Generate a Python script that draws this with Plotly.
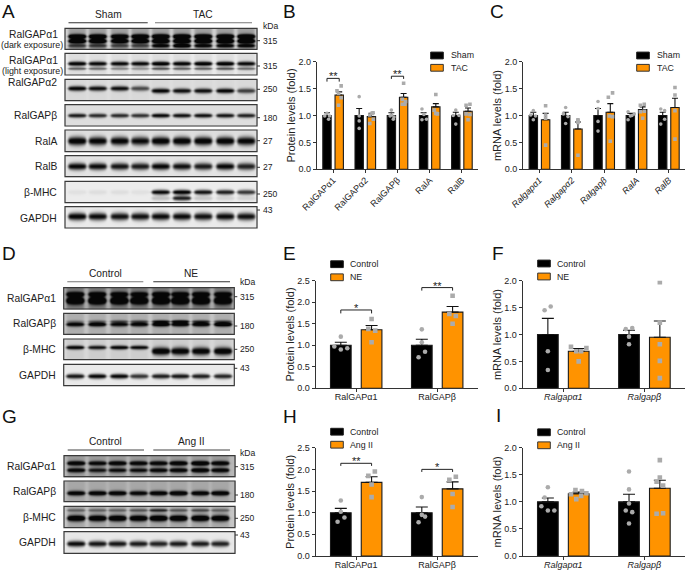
import numpy as np
import plotly.graph_objects as go

W, H = 685, 570
FONT = "Liberation Sans"
INK = "#222222"
AXC = "#333333"
ORANGE = "#FF9300"
DOT = "#ABABAB"

# ---------- bar chart data ----------
B_labels = ["RalGAPα1", "RalGAPα2", "RalGAPβ", "RalA", "RalB"]
B_sham = [1.0, 1.0, 1.0, 1.0, 1.0]
B_sham_err = [0.05, 0.13, 0.05, 0.05, 0.06]
B_tac = [1.38, 0.98, 1.34, 1.16, 1.08]
B_tac_err = [0.06, 0.06, 0.07, 0.06, 0.06]
B_sham_pts = [[1.04, 0.93, 0.99, 0.99], [1.35, 0.90, 0.76, 0.99], [1.10, 0.99, 0.93, 1.01, 0.97],
              [1.12, 0.92, 0.93, 1.02], [1.10, 0.84, 1.00, 1.00]]
B_sham_dx = [[0, .05, -.07, .08], [0, 0, 0, 0], [0, -.04, .06, .01, .08],
             [-.05, -.05, .09, .01], [0, 0, .1, -.08]]
B_tac_pts = [[1.46, 1.55, 1.33, 1.19, 1.41], [0.85, 1.04, 0.93, 1.01, 1.05], [1.60, 1.30, 1.26, 1.21, 1.21],
             [1.39, 1.10, 1.03, 1.04], [1.19, 1.21, 0.92, 1.02, 1.03]]
B_tac_dx = [[-.07, .06, .06, -.02, -.02], [-.05, .02, .06, -.05, .05], [0, -.04, .06, -.04, .04],
            [0, -.05, .05, 0], [-.06, .06, 0, .06, -.06]]

C_labels = ["Ralgapα1", "Ralgapα2", "Ralgapβ", "RalA", "RalB"]
C_sham = [1.0, 1.0, 1.0, 1.0, 1.0]
C_sham_err = [0.06, 0.06, 0.13, 0.04, 0.06]
C_tac = [0.92, 0.75, 1.06, 1.11, 1.15]
C_tac_err = [0.12, 0.13, 0.16, 0.05, 0.17]
C_sham_pts = [[1.09, 1.01, 0.99, 0.92], [1.15, 1.03, 0.98, 0.85], [1.26, 0.89, 0.71, 1.13],
              [1.07, 0.92, 1.03, 1.00, 0.99], [1.12, 1.09, 0.84, 0.93]]
C_sham_dx = [[0, -.08, .07, 0], [0, -.07, .07, 0], [0, 0, 0, 0], [-.07, -.07, .12, .05, 0], [-.06, .06, -.06, .06]]
C_tac_pts = [[1.18, 0.95, 0.45, 1.01], [0.92, 0.87, 0.26, 0.90], [1.42, 1.34, 0.99, 0.98, 0.52],
             [1.19, 1.21, 0.95, 1.08, 1.07], [1.52, 1.38, 1.09, 0.56]]
C_tac_dx = [[0, 0, 0, 0], [0, 0, 0, 0], [.07, -.06, -.03, .07, 0], [-.07, .05, 0, .05, -.07], [0, 0, 0, 0]]

E_labels = ["RalGAPα1", "RalGAPβ"]
E_ctrl = [1.0, 1.0]
E_ctrl_err = [0.07, 0.14]
E_ne = [1.36, 1.77]
E_ne_err = [0.10, 0.13]
E_ctrl_pts = [[1.20, 0.97, 0.90, 0.93], [1.37, 1.07, 0.85, 0.72]]
E_ctrl_dx = [[0, -.08, 0, .08], [0, 0, .04, -.04]]
E_ne_pts = [[1.61, 1.38, 1.34, 1.07], [2.15, 1.73, 1.68, 1.50]]
E_ne_dx = [[0, -.04, .045, 0], [0, -.04, .04, 0]]

F_labels = ["Ralgapα1", "Ralgapβ"]
F_ctrl = [1.0, 1.0]
F_ctrl_err = [0.30, 0.08]
F_ne = [0.69, 0.95]
F_ne_err = [0.05, 0.30]
F_ctrl_pts = [[1.45, 1.52, 0.69, 0.34], [1.10, 1.12, 0.96, 0.82]]
F_ctrl_dx = [[-.04, .035, 0, 0], [-.04, .04, 0, 0]]
F_ne_pts = [[0.77, 0.75, 0.50, 0.69, 0.69], [1.97, 0.82, 0.51, 0.19, 1.22]]
F_ne_dx = [[-.095, .095, 0, .03, -.03], [0, 0, 0, 0, 0]]

H_labels = ["RalGAPα1", "RalGAPβ"]
H_ctrl = [1.0, 1.0]
H_ctrl_err = [0.10, 0.13]
H_ang = [1.70, 1.55]
H_ang_err = [0.13, 0.16]
H_ctrl_pts = [[1.28, 1.02, 0.89, 0.79], [1.36, 0.95, 0.91, 0.78]]
H_ctrl_dx = [[0, 0, .045, -.04], [0, 0, .04, -.04]]
H_ang_pts = [[1.95, 1.85, 1.65, 1.36], [1.83, 1.76, 1.43, 1.13]]
H_ang_dx = [[.04, -.04, 0, 0], [.04, -.04, 0, 0]]

I_labels = ["Ralgapα1", "Ralgapβ"]
I_ctrl = [1.0, 1.0]
I_ctrl_err = [0.07, 0.14]
I_ang = [1.15, 1.25]
I_ang_err = [0.03, 0.15]
I_ctrl_pts = [[1.27, 1.08, 0.92, 0.84, 0.84], [1.56, 1.23, 0.97, 0.84, 0.81, 0.60]]
I_ctrl_dx = [[0, -.04, -.08, 0, .08], [0, 0, 0, -.04, .04, 0]]
I_ang_pts = [[1.22, 1.20, 1.14, 1.16, 1.05, 1.11], [1.77, 1.45, 1.30, 1.37, 0.78, 0.79]]
I_ang_dx = [[-.04, .04, -.095, .095, -.03, .03], [0, 0, .04, -.04, -.04, .04]]

# ---------- blot band strengths (darkness per lane) ----------
A1_top = [.95, .95, .90, .95, 1, 1, 1, 1, 1]
A1_mid = [.95, .95, .90, .95, 1, 1, 1, 1, 1]
A1_low = [.45, .45, .40, .40, .7, .85, .7, .7, .7]
A2_top = [.95, .90, .90, .90, 1, .95, 1, 1, .90]
A2_low = [.50, .45, .35, .30, .55, .50, .50, .55, .45]
A3_sham = [.90, .85, .85, .60, 0, 0, 0, 0, 0]
A3_tac = [0, 0, 0, 0, .90, .85, .85, .90, .65]
A4_main = [.85, .78, .78, .75, .95, .90, .90, .88, .82]
A5_main = [1, .95, .95, .90, 1, 1, 1, 1, .95]
A6_main = [.95, .92, .88, .85, .95, .90, .85, .95, .82]
A7_main = [.05, .06, .06, .05, .95, 1, .90, .85, .75]
A7_smear = [0, 0, 0, 0, .18, .85, .15, .10, .10]
A8_main = [1, .95, .92, .92, .95, .95, .92, .95, .92]
D1_top = [.80, .75, .70, .65, .80, .70, .75, .70]
D1_low = [.95, 1, 1, .95, 1, 1, 1, .95]
D2_top = [.15, .25, .35, .35, .55, .65, .45, .35]
D2_low = [.75, .80, .70, .75, .85, .80, .80, .90]
D3_ctrl = [.90, .80, .90, .85, 0, 0, 0, 0]
D3_ne = [0, 0, 0, 0, 1, .95, .95, 1]
D4_main = [.88, .95, .95, .75, .85, .88, .85, .82]
G1_top = [.85, .75, .85, .80, .80, .90, 1, .85]
G1_low = [.75, .60, .65, .65, .75, .80, .90, .80]
G2_main = [.80, .85, .85, .75, .85, .95, .85, .90]
G3_top = [.30, .30, .30, .35, .55, .35, .40, .30]
G3_main = [.92, .90, .92, .90, .95, .95, .95, .90]
G4_main = [.95, .90, .90, .88, .85, .88, .88, .85]

LANES_A = [77, 97.5, 119.5, 140, 160.5, 181.7, 203, 225, 246]
LANES_D = [75, 97, 119, 139, 160.7, 180, 200.7, 222.7]
LANES_G = [76, 97.3, 117.3, 138.3, 158.3, 178.3, 200, 220]

# x0, x1, y0, y1, lanes, background, lane smear, bands (rel y, rel sigma, strengths)
BLOTS = [
    (65, 257, 28.3, 49.3, LANES_A, .14, .22, [(.38, .12, A1_top), (.60, .11, A1_mid), (.82, .10, A1_low)]),
    (65, 257, 53.3, 75, LANES_A, .04, .06, [(.47, .11, A2_top), (.70, .07, A2_low)]),
    (65, 257, 79.3, 100.7, LANES_A, .10, .02, [(.42, .12, A3_sham), (.53, .12, A3_tac)]),
    (65, 257, 104.7, 126, LANES_A, .10, .0, [(.50, .10, A4_main)]),
    (65, 257, 130, 151.7, LANES_A, .10, .0, [(.50, .20, A5_main)]),
    (65, 257, 155.7, 176.7, LANES_A, .08, .0, [(.50, .17, A6_main)]),
    (65, 257, 181.3, 202.7, LANES_A, .04, .0, [(.50, .12, A7_main), (.78, .12, A7_smear)]),
    (65, 257, 206.7, 228, LANES_A, .05, .0, [(.45, .18, A8_main)]),
    (63.7, 234.3, 287.7, 309, LANES_D, .30, .22, [(.30, .12, D1_top), (.60, .17, D1_low)]),
    (63.7, 234.3, 313.3, 334.3, LANES_D, .20, .10, [(.38, .08, D2_top), (.52, .11, D2_low)]),
    (63.7, 234.3, 339, 359.7, LANES_D, .12, .05, [(.40, .10, D3_ctrl), (.58, .19, D3_ne)]),
    (63.7, 234.3, 364.3, 385.7, LANES_D, .05, .0, [(.55, .12, D4_main)]),
    (64, 235, 455.7, 476.7, LANES_G, .26, .12, [(.35, .11, G1_top), (.68, .11, G1_low)]),
    (64, 235, 481, 501.7, LANES_G, .26, .07, [(.58, .12, G2_main)]),
    (64, 235, 506.3, 527.7, LANES_G, .20, .12, [(.18, .08, G3_top), (.55, .15, G3_main)]),
    (64, 235, 531.7, 553.3, LANES_G, .06, .0, [(.55, .14, G4_main)]),
]


def px(x):
    return x / W


def py(y):
    return 1 - y / H


fig = go.Figure()
shapes, annots = [], []


def text(x, y, s, size=9, anchor="left", color=INK):
    annots.append(dict(xref="paper", yref="paper", x=px(x), y=py(y), text=s, showarrow=False,
                       xanchor=anchor, yanchor="middle", borderpad=0,
                       font=dict(family=FONT, size=size, color=color)))


def line(x0, y0, x1, y1, color=AXC, w=1.0):
    shapes.append(dict(type="line", xref="paper", yref="paper", x0=px(x0), x1=px(x1), y0=py(y0), y1=py(y1),
                       line=dict(color=color, width=w)))


def rect(x0, y0, x1, y1, fill, color=AXC, w=1.0):
    shapes.append(dict(type="rect", xref="paper", yref="paper", x0=px(x0), x1=px(x1), y0=py(y0), y1=py(y1),
                       fillcolor=fill, line=dict(color=color, width=w)))


# ---------- blots on a pixel canvas axis ----------
CANVAS = 7
for x0, x1, y0, y1, lanes, bg, smear, bands in BLOTS:
    xs = np.arange(x0, x1 + .01, .5)
    ys = np.arange(y0, y1 + .01, .5)
    XX, YY = np.meshgrid(xs, ys)
    z = np.full(XX.shape, float(bg))
    h = y1 - y0
    for i, c in enumerate(lanes):
        box = .5 * (np.tanh((XX - c + 8.8) / 1.4) - np.tanh((XX - c - 8.8) / 1.4))
        z += smear * box
        taper = .45 + .55 * np.sqrt(np.clip(1 - ((XX - c) / 10.0) ** 2, 0, 1))
        for ry, rs, vals in bands:
            prof = np.exp(-((YY - (y0 + ry * h)) / (rs * h * taper)) ** 2)
            z += vals[i] * box * prof
    z = np.clip(z, 0, 1)
    fig.add_trace(go.Heatmap(x=xs, y=ys, z=z, zmin=0, zmax=1, zsmooth="best", showscale=False, hoverinfo="skip",
                             colorscale=[[0, "#f6f6f6"], [1, "#060606"]], xaxis=f"x{CANVAS}", yaxis=f"y{CANVAS}"))
    rect(x0, y0, x1, y1, "rgba(0,0,0,0)", "#3a3a3a", 1.2)


# ---------- bar panels ----------
def panel(n, x0, x1, ytop, ybot, ymax, labels, names, a, ae, b, be, ap, adx, bp, bdx, italic, angle, ytitle, mk):
    g = np.arange(len(labels))
    off = 0.19
    wid = 0.26 if len(labels) == 5 else 0.255
    xa, ya = f"x{n}", f"y{n}"
    for vals, errs, side, col, name, pts, dxs, sym in [
        (a, ae, -off, "#000000", names[0], ap, adx, "circle"),
        (b, be, off, ORANGE, names[1], bp, bdx, "square"),
    ]:
        fig.add_trace(go.Bar(x=g + side, y=vals, width=wid, name=name, marker=dict(color=col, line=dict(color="#1a1a1a", width=1.1)),
                             error_y=dict(type="data", symmetric=False, array=errs, arrayminus=[0] * len(errs),
                                          color="#111111", thickness=1.1, width=mk[1]),
                             showlegend=False, xaxis=xa, yaxis=ya, hoverinfo="skip"))
        px_, py_ = [], []
        for i, (ys_, ds_) in enumerate(zip(pts, dxs)):
            for v, d in zip(ys_, ds_):
                px_.append(i + side + d)
                py_.append(v)
        fig.add_trace(go.Scatter(x=px_, y=py_, mode="markers", marker=dict(color=DOT, size=mk[0], symbol=sym),
                                 showlegend=False, xaxis=xa, yaxis=ya, hoverinfo="skip"))
    tt = [f"<i>{t}</i>" if italic else t for t in labels]
    axis_x = dict(domain=[px(x0), px(x1)], anchor=ya, range=[-0.5, len(labels) - 0.5], tickmode="array", tickvals=list(g),
                  ticktext=tt, tickangle=angle, ticks="outside", ticklen=3, tickwidth=1, tickcolor=AXC,
                  ticklabelstandoff=-2 if angle else -3,
                  showline=True, linecolor=AXC, linewidth=1.3, showgrid=False, zeroline=False, automargin=False,
                  tickfont=dict(family=FONT, size=9, color=INK))
    axis_y = dict(domain=[py(ybot), py(ytop)], anchor=xa, range=[0, ymax], tickmode="array",
                  tickvals=list(np.arange(0, ymax + .01, .5)),
                  ticktext=[f"{v:.1f}" for v in np.arange(0, ymax + .01, .5)],
                  ticks="outside", ticklen=3, tickwidth=1, tickcolor=AXC, automargin=False,
                  showline=True, linecolor=AXC, linewidth=1.3, showgrid=False, zeroline=False,
                  tickfont=dict(family=FONT, size=9, color=INK),
                  title=dict(text=ytitle, standoff=0, font=dict(family=FONT, size=11, color=INK)))
    return {f"xaxis{n}": axis_x, f"yaxis{n}": axis_y}


SMALL = (3.6, 3)
LARGE = (4.6, 6)
layout_axes = {}
layout_axes.update(panel(1, 317, 478, 61.7, 169.3, 2.0, B_labels, ("Sham", "TAC"), B_sham, B_sham_err, B_tac, B_tac_err,
                         B_sham_pts, B_sham_dx, B_tac_pts, B_tac_dx, False, -45, "Protein levels (fold)", SMALL))
layout_axes.update(panel(2, 523.3, 685, 61.7, 169.3, 2.0, C_labels, ("Sham", "TAC"), C_sham, C_sham_err, C_tac, C_tac_err,
                         C_sham_pts, C_sham_dx, C_tac_pts, C_tac_dx, True, -45, "mRNA levels (fold)", SMALL))
layout_axes.update(panel(3, 315.7, 477.7, 280.7, 388.3, 2.5, E_labels, ("Control", "NE"), E_ctrl, E_ctrl_err, E_ne, E_ne_err,
                         E_ctrl_pts, E_ctrl_dx, E_ne_pts, E_ne_dx, False, 0, "Protein levels (fold)", LARGE))
layout_axes.update(panel(4, 522.7, 685, 280.7, 388.3, 2.0, F_labels, ("Control", "NE"), F_ctrl, F_ctrl_err, F_ne, F_ne_err,
                         F_ctrl_pts, F_ctrl_dx, F_ne_pts, F_ne_dx, True, 0, "mRNA levels (fold)", LARGE))
layout_axes.update(panel(5, 315.7, 477.7, 447.7, 556, 2.5, H_labels, ("Control", "Ang II"), H_ctrl, H_ctrl_err, H_ang, H_ang_err,
                         H_ctrl_pts, H_ctrl_dx, H_ang_pts, H_ang_dx, False, 0, "Protein levels (fold)", LARGE))
layout_axes.update(panel(6, 522.7, 685, 447.7, 556, 2.0, I_labels, ("Control", "Ang II"), I_ctrl, I_ctrl_err, I_ang, I_ang_err,
                         I_ctrl_pts, I_ctrl_dx, I_ang_pts, I_ang_dx, True, 0, "mRNA levels (fold)", LARGE))


# ---------- significance brackets ----------
def bracket(n, i, top, tip, stars):
    fig.add_trace(go.Scatter(x=[i - .19, i - .19, i + .19, i + .19], y=[tip, top, top, tip], mode="lines",
                             line=dict(color=INK, width=1), showlegend=False, hoverinfo="skip",
                             xaxis=f"x{n}", yaxis=f"y{n}"))
    annots.append(dict(xref=f"x{n}", yref=f"y{n}", x=i, y=top, text=stars, showarrow=False, yanchor="bottom", yshift=-5,
                       borderpad=0, font=dict(family=FONT, size=11, color=INK)))


bracket(1, 0, 1.69, 1.63, "**")
bracket(1, 2, 1.73, 1.68, "**")
bracket(3, 0, 1.82, 1.74, "*")
bracket(3, 1, 2.34, 2.27, "**")
bracket(5, 0, 2.14, 2.08, "**")
bracket(5, 1, 2.00, 1.94, "*")

# ---------- hand-placed legends ----------
LEG = [
    (430.7, 449.7, 55.5, 67.8, "Sham", "TAC"),
    (636.7, 655.7, 55.5, 67.8, "Sham", "TAC"),
    (330.7, 349, 264.2, 277.3, "Control", "NE"),
    (537.7, 556.3, 263.5, 276.5, "Control", "NE"),
    (330.7, 349, 431.7, 444.7, "Control", "Ang II"),
    (537.7, 556.3, 432.3, 445.3, "Control", "Ang II"),
]
for sx, tx, y1, y2, n1, n2 in LEG:
    rect(sx, y1 - 3.4, sx + 12.6, y1 + 3.4, "#000000", "#1a1a1a", 1)
    rect(sx, y2 - 3.4, sx + 12.6, y2 + 3.4, ORANGE, "#333333", 1)
    text(tx, y1, n1, 8.8)
    text(tx, y2, n2, 8.8)

# ---------- blot text ----------
for x, y, s in [(0.5, 11.5, "A"), (281.7, 11.5, "B"), (489.3, 11.5, "C"), (1, 253.3, "D"), (281.7, 253.3, "E"),
                (490.7, 253.3, "F"), (1, 416.5, "G"), (281.7, 416, "H"), (495, 415, "I")]:
    text(x, y, s, 19, color="#111111")

text(33.7, 34.3, "RalGAPα1", 10.3, "center")
text(32.3, 45, "(dark exposure)", 8.9, "center")
text(33.7, 60, "RalGAPα1", 10.3, "center")
text(32.3, 70.7, "(light exposure)", 8.9, "center")
for y, s in [(82.7, "RalGAPα2"), (115.7, "RalGAPβ"), (141.7, "RalA"), (166, "RalB"), (192.7, "β-MHC"), (218.3, "GAPDH")]:
    text(58.3, y, s, 10.3, "right")
for y, s in [(298.3, "RalGAPα1"), (323.7, "RalGAPβ"), (349.3, "β-MHC"), (375, "GAPDH")]:
    text(56.7, y, s, 10.3, "right")
for y, s in [(466, "RalGAPα1"), (491.7, "RalGAPβ"), (517.3, "β-MHC"), (542.7, "GAPDH")]:
    text(57.3, y, s, 10.3, "right")

for x, y, s in [(108.3, 14.3, "Sham"), (203.3, 14.3, "TAC"), (105, 273.3, "Control"), (191, 273.3, "NE"),
                (105.3, 441, "Control"), (191, 441, "Ang II")]:
    text(x, y, s, 10.2, "center")
line(68.5, 22.7, 147.7, 22.7, "#333333", 1.1)
line(155, 22.7, 252, 22.7, "#777777", 1.1)
line(67.3, 281.7, 143.3, 281.7, "#777777", 1.1)
line(153.3, 281.7, 230, 281.7, "#333333", 1.1)
line(67.7, 450, 144, 450, "#444444", 1.1)
line(153.3, 450, 230, 450, "#444444", 1.1)

for lx, edge, items in [
    (262.3, 257, [(26, "kDa", False), (40.7, "315", True), (66, "315", True), (89.3, "250", True), (117.7, "180", True),
                  (140.7, "27", True), (167.3, "27", True), (194, "250", True), (210, "43", True)]),
    (239.3, 234.3, [(282.3, "kDa", False), (296.7, "315", True), (326, "180", True), (349.3, "250", True), (368.3, "43", True)]),
    (239.3, 235, [(453.3, "kDa", False), (466.7, "315", True), (495, "180", True), (518.3, "250", True), (535, "43", True)]),
]:
    for y, s, tick in items:
        text(lx, y, s, 8.6)
        if tick:
            line(edge, y, edge + 3, y, "#333333", 1)

layout_axes[f"xaxis{CANVAS}"] = dict(domain=[0, 1], range=[0, W], visible=False, anchor=f"y{CANVAS}", fixedrange=True)
layout_axes[f"yaxis{CANVAS}"] = dict(domain=[0, 1], range=[H, 0], visible=False, anchor=f"x{CANVAS}", fixedrange=True)

fig.update_layout(width=W, height=H, margin=dict(l=0, r=0, t=0, b=0, autoexpand=False), paper_bgcolor="white",
                  plot_bgcolor="rgba(0,0,0,0)",
                  barmode="overlay", showlegend=False, shapes=shapes, annotations=annots, font=dict(family=FONT),
                  **layout_axes)
fig.write_html("out.html", config={"displayModeBar": False}, post_script="document.body.style.margin='0';")
